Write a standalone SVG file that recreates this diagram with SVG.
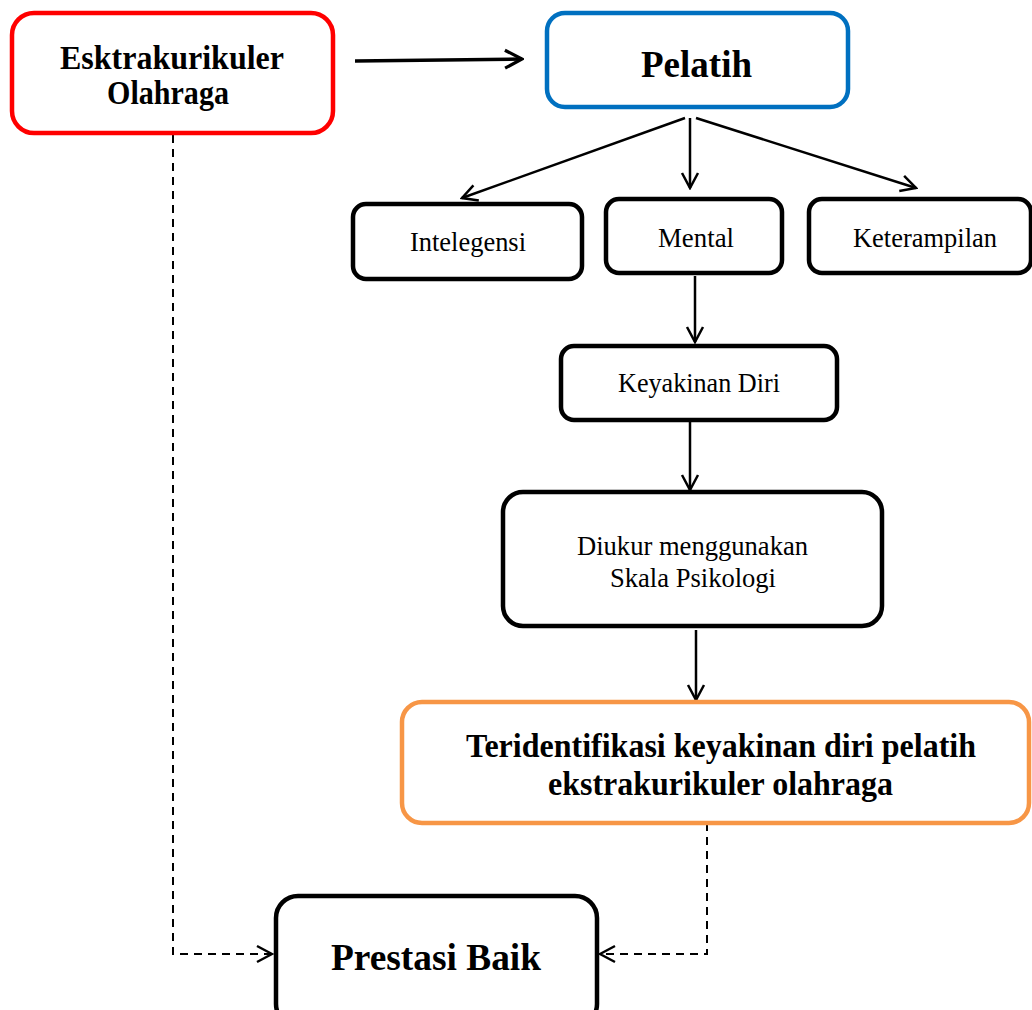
<svg xmlns="http://www.w3.org/2000/svg" width="1032" height="1010" viewBox="0 0 1032 1010">
<style>
.box{fill:#fff;stroke:#000;stroke-width:4.5}
.red{stroke:#ff0000}
.blue{stroke:#0070c0}
.orange{stroke:#f79646}
.b{font-family:"Liberation Serif","Times New Roman",serif;font-weight:bold;fill:#000;text-anchor:middle}
.r{font-family:"Liberation Serif","Times New Roman",serif;fill:#000;text-anchor:middle;font-size:28px}
.conn{stroke:#000;stroke-width:2.5;fill:none}
.thick{stroke-width:3.5}
.dash{stroke:#000;stroke-width:2;fill:none;stroke-dasharray:8 6}
</style>
<defs>
<marker id="arr" viewBox="0 0 20 20" refX="18" refY="10" markerWidth="20" markerHeight="20" orient="auto" markerUnits="userSpaceOnUse">
<path d="M3,2 L18,10 L3,18" fill="none" stroke="#000" stroke-width="2.5" stroke-dasharray="none"/>
</marker>
<marker id="arrL" viewBox="0 0 22 22" refX="20" refY="11" markerWidth="22" markerHeight="22" orient="auto" markerUnits="userSpaceOnUse">
<path d="M3,2 L20,11 L3,20" fill="none" stroke="#000" stroke-width="3.2"/>
</marker>
</defs>
<rect width="1032" height="1010" fill="#fff"/>
<g id="connectors">
<line class="conn thick" x1="355" y1="61" x2="522" y2="59" marker-end="url(#arrL)"/>
<line class="conn" x1="685" y1="118" x2="462" y2="198" marker-end="url(#arr)"/>
<line class="conn" x1="690" y1="118" x2="690" y2="188" marker-end="url(#arr)"/>
<line class="conn" x1="696" y1="118" x2="916" y2="188" marker-end="url(#arr)"/>
<line class="conn" x1="695" y1="276" x2="695" y2="342" marker-end="url(#arr)"/>
<line class="conn" x1="690" y1="422" x2="690" y2="490" marker-end="url(#arr)"/>
<line class="conn" x1="696" y1="630" x2="696" y2="700" marker-end="url(#arr)"/>
<polyline class="dash" points="173,135 173,954 272,954" marker-end="url(#arr)"/>
<polyline class="dash" points="707,823 707,954 600,954" marker-end="url(#arr)"/>
</g>
<g id="esktrakurikuler">
<rect class="box red" x="12" y="13" width="321" height="120" rx="22"/>
<text class="b" x="172" y="69" font-size="34" textLength="224" lengthAdjust="spacingAndGlyphs">Esktrakurikuler</text>
<text class="b" x="168" y="104" font-size="34" textLength="122" lengthAdjust="spacingAndGlyphs">Olahraga</text>
</g>
<g id="pelatih">
<rect class="box blue" x="547" y="13" width="301" height="94" rx="18"/>
<text class="b" x="696.5" y="77" font-size="38" textLength="111" lengthAdjust="spacingAndGlyphs">Pelatih</text>
</g>
<g id="intelegensi">
<rect class="box" x="353" y="204" width="229" height="75" rx="13"/>
<text class="r" x="468" y="251" textLength="116" lengthAdjust="spacingAndGlyphs">Intelegensi</text>
</g>
<g id="mental">
<rect class="box" x="606" y="199" width="176" height="74" rx="13"/>
<text class="r" x="696" y="247" textLength="76" lengthAdjust="spacingAndGlyphs">Mental</text>
</g>
<g id="keterampilan">
<rect class="box" x="809" y="199" width="222" height="74" rx="13"/>
<text class="r" x="925" y="247" textLength="144" lengthAdjust="spacingAndGlyphs">Keterampilan</text>
</g>
<g id="keyakinan">
<rect class="box" x="561" y="346" width="276" height="74" rx="13"/>
<text class="r" x="699" y="392" textLength="162" lengthAdjust="spacingAndGlyphs">Keyakinan Diri</text>
</g>
<g id="diukur">
<rect class="box" x="503" y="492" width="379" height="134" rx="20"/>
<text class="r" x="692.5" y="555" textLength="231" lengthAdjust="spacingAndGlyphs">Diukur menggunakan</text>
<text class="r" x="693" y="587" textLength="166" lengthAdjust="spacingAndGlyphs">Skala Psikologi</text>
</g>
<g id="teridentifikasi">
<rect class="box orange" x="402" y="702" width="627" height="121" rx="20"/>
<text class="b" x="721" y="757" font-size="34" textLength="510" lengthAdjust="spacingAndGlyphs">Teridentifikasi keyakinan diri pelatih</text>
<text class="b" x="720.5" y="795" font-size="34" textLength="345" lengthAdjust="spacingAndGlyphs">ekstrakurikuler olahraga</text>
</g>
<g id="prestasi">
<rect class="box" x="276" y="896" width="321" height="130" rx="22"/>
<text class="b" x="436" y="970" font-size="38" textLength="210" lengthAdjust="spacingAndGlyphs">Prestasi Baik</text>
</g>
</svg>
